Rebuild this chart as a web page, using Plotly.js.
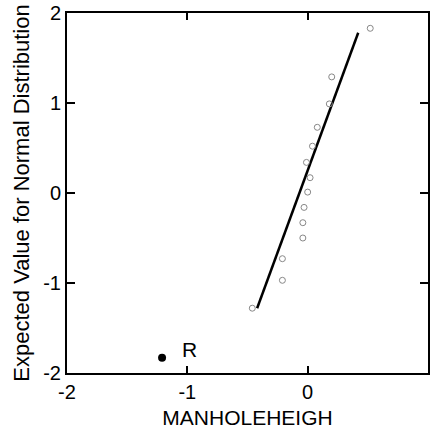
<!DOCTYPE html>
<html>
<head>
<meta charset="utf-8">
<script src="https://cdn.plot.ly/plotly-3.0.1.min.js"></script>
<style>
html,body{margin:0;padding:0;background:#fff;}
#chart{width:432px;height:433px;}
</style>
</head>
<body>
<div id="chart"></div>
<script>
// Probability plot values
var obsX = [0.52, 0.20, 0.18, 0.08, 0.04, -0.01, 0.02, 0.00, -0.03, -0.04, -0.04, -0.21, -0.21, -0.46];
var obsY = [1.83, 1.29, 0.99, 0.73, 0.52, 0.34, 0.17, 0.01, -0.16, -0.33, -0.50, -0.73, -0.97, -1.28];
var fitX = [-0.42, 0.42];
var fitY = [-1.28, 1.78];
var outlierX = [-1.21];
var outlierY = [-1.83];
var outlierLabel = ['R'];
var xTickVals = [-2, -1, 0, 1];
var xTickText = ['-2', '-1', '0', '1'];
var yTickVals = [-2, -1, 0, 1, 2];
var yTickText = ['-2', '-1', '0', '1', '2'];

var font = 'Liberation Sans, Arial, sans-serif';

var traces = [
  {x: fitX, y: fitY, mode: 'lines', line: {color: '#000', width: 2.5}, hoverinfo: 'skip'},
  {x: obsX, y: obsY, mode: 'markers',
   marker: {symbol: 'circle-open', size: 6, color: '#888', line: {width: 1, color: '#888'}}},
  {x: outlierX, y: outlierY, mode: 'markers',
   marker: {symbol: 'circle', size: 8, color: '#000'}}
];

var layout = {
  width: 432, height: 433,
  margin: {l: 67, r: 4, t: 13, b: 60},
  showlegend: false,
  paper_bgcolor: '#fff', plot_bgcolor: '#fff',
  font: {family: font, color: '#000'},
  xaxis: {
    range: [-2, 1], tickvals: xTickVals, ticktext: xTickText,
    showgrid: false, zeroline: false,
    showline: true, linecolor: '#000', linewidth: 2, mirror: 'ticks',
    ticks: 'inside', ticklen: 7, tickwidth: 2, tickcolor: '#000',
    tickfont: {family: font, size: 20, color: '#000'},
    title: {text: 'MANHOLEHEIGH', font: {family: font, size: 21, color: '#000'}, standoff: 8}
  },
  yaxis: {
    range: [-2, 2], tickvals: yTickVals, ticktext: yTickText,
    showgrid: false, zeroline: false,
    showline: true, linecolor: '#000', linewidth: 2, mirror: 'ticks',
    ticks: 'inside', ticklen: 8, tickwidth: 2, tickcolor: '#000',
    tickfont: {family: font, size: 20, color: '#000'},
    title: {text: 'Expected Value for Normal Distribution', font: {family: font, size: 22, color: '#000'}, standoff: 8}
  },
  annotations: [
    {x: outlierX[0], y: outlierY[0], xref: 'x', yref: 'y', text: outlierLabel[0],
     showarrow: false, xshift: 27, yshift: 8, font: {family: font, size: 21, color: '#000'}}
  ]
};

Plotly.newPlot('chart', traces, layout, {displayModeBar: false});
</script>
</body>
</html>
